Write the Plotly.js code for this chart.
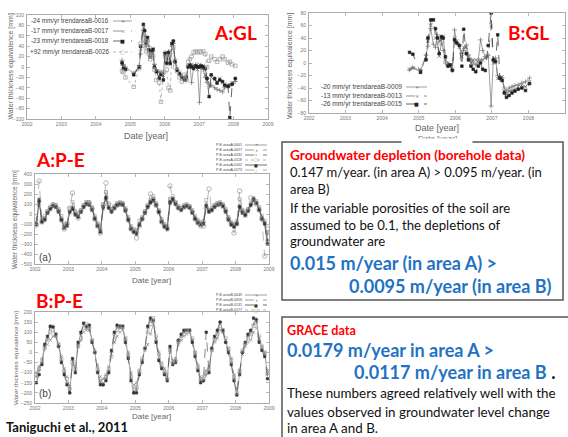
<!DOCTYPE html>
<html>
<head>
<meta charset="utf-8">
<script src="https://cdn.plot.ly/plotly-3.0.1.min.js"></script>
<style>html,body{margin:0;padding:0;background:#fff;}#chart{width:568px;height:437px;}</style>
</head>
<body>
<div id="chart"></div>
<script>
// ---------- DATA ----------
const years = [2002, 2003, 2004, 2005, 2006, 2007, 2008, 2009];

// A:GL (trend area A)
const glA_x = [2004.76,2004.80,2004.86,2005.10,2005.26,2005.30,2005.38,2005.42,2005.46,2005.50,2005.54,2005.58,2005.62,2005.66,2005.70,2005.76,2005.84,2005.89,2005.96,2006.01,2006.06,2006.11,2006.16,2006.21,2006.25,2006.30,2006.36,2006.43,2006.50,2006.57,2006.63,2006.68,2006.73,2006.78,2006.84,2006.90,2006.95,2007.01,2007.06,2007.12,2007.18,2007.23,2007.29,2007.35,2007.45,2007.52,2007.60,2007.68,2007.74,2007.84,2007.89,2007.96,2008.05];
const glA_0016 = [13,5,0,-12,3,25,70,50,40,50,40,25,20,30,5,-5,-10,-10,-12,28,15,30,10,40,45,15,-5,-15,-18,-20,-25,3,5,-30,0,5,2,-68,0,-5,-20,-30,-38,-35,-40,-43,-45,-48,-40,-38,-36,-32,-28];
const glA_0017 = [5,0,-3,-14,0,35,75,60,50,55,30,18,25,35,3,-8,-18,-12,-20,25,10,25,5,45,48,8,-3,-10,-22,-23,-18,2,3,5,2,0,-5,5,0,3,-15,-25,-32,-20,-25,-28,-22,-30,-33,-35,-34,-30,-25];
const glA_0018 = [8,-3,-5,-15,0,40,82,70,45,57,33,20,30,34,0,-9,-22,-15,-25,26,7,28,7,45,50,10,-6,-13,-20,-25,-20,0,4,0,-3,2,0,0,2,0,-3,-22,-57,-15,-22,-31,-25,-28,-35,-37,-97,-33,-22];
const glA_0026 = [-8,-10,-20,-38,-2,45,50,40,30,50,25,15,25,22,-5,-25,-30,-67,-10,20,-5,-40,-45,30,38,0,-8,-20,-28,-15,-25,10,15,20,28,30,28,30,28,30,25,0,12,20,15,10,15,20,15,8,10,5,2];
const glA_labels = ['-24 mm/yr', '-17 mm/yr', '-23 mm/yr', '+92 mm/yr'];
const glA_names = ['trendareaB-0016', 'trendareaB-0017', 'trendareaB-0018', 'trendareaB-0026'];

// B:GL (trend area B)
const glB_x = [2004.75,2004.84,2005.05,2005.20,2005.25,2005.33,2005.40,2005.46,2005.51,2005.56,2005.62,2005.67,2005.73,2005.80,2005.86,2005.92,2005.98,2006.04,2006.11,2006.18,2006.23,2006.30,2006.36,2006.43,2006.49,2006.56,2006.63,2006.69,2006.75,2006.82,2006.90,2006.98,2007.04,2007.10,2007.16,2007.22,2007.28,2007.34,2007.40,2007.47,2007.55,2007.63,2007.72,2007.82,2007.92,2008.03];
const glB_0009 = [-11,-7,-12,13,27,55,30,25,45,35,40,20,0,-3,-5,-11,53,32,29,15,20,29,13,5,0,-3,5,37,20,10,13,-69,5,8,-20,-26,-24,-40,-45,-40,-38,-36,-35,-32,-30,-24];
const glB_0013 = [-10,-8,-14,10,35,60,69,40,32,11,30,43,5,0,-3,-10,40,35,25,10,25,25,10,0,5,5,0,5,5,8,10,60,0,5,-25,-24,-22,-45,-50,-45,-44,-42,-38,-36,-38,-30];
const glB_0015 = [17,14,-15,5,40,69,69,55,40,15,42,40,10,-5,-3,-12,37,32,28,-5,54,15,5,-5,-10,-14,-5,0,-10,-12,28,80,5,2,45,-24,-28,-48,-55,-52,-48,-45,-42,-40,-44,-33];
const glB_labels = ['-20 mm/yr', '-13 mm/yr', '-26 mm/yr'];
const glB_names = ['trendareaB-0009', 'trendareaB-0013', 'trendareaB-0015'];

// A:P-E monthly, Jan 2002 - Dec 2008
const peA_0001 = [-100,120,-60,-40,20,60,90,80,40,-40,-120,-100, 30,80,0,-30,30,80,110,110,60,-30,-100,-160, 80,150,60,20,70,100,110,100,50,-40,-130,-160, -180,-90,-40,20,80,130,150,100,30,-60,-110,-130, 100,130,90,60,50,80,90,70,30,-30,-70,-90, -80,80,30,50,80,100,110,90,40,-40,-90,-110, -80,70,30,0,40,100,150,120,60,-30,-80,-200];
const peA_0027 = [-80,140,-80,-60,0,40,70,60,20,-60,-140,-120, 10,40,10,-10,10,60,90,90,40,-50,-120,-180, 50,190,80,40,50,80,90,90,30,-60,-150,-180, -200,-110,-60,0,60,100,120,80,10,-80,-130,-150, 120,150,110,70,30,60,70,60,10,-50,-90,-110, -100,100,20,30,60,80,90,70,20,-60,-110,-130, -100,90,10,-20,20,80,130,100,40,-50,-100,-280];
const peA_0032 = [-110,150,-70,-50,10,50,80,70,30,-50,-130,-110, 20,60,0,-20,20,70,100,100,50,-40,-110,-170, 60,170,70,30,60,90,100,100,40,-50,-140,-170, -190,-100,-50,10,70,110,130,90,20,-70,-120,-140, 110,140,100,60,40,70,80,70,20,-40,-80,-100, -90,90,30,40,70,90,100,80,30,-50,-100,-120, -90,80,20,-10,30,90,140,110,50,-40,-90,-260];
const peA_0118 = [-60,100,-40,-20,30,70,100,90,50,-20,-100,-90, 50,120,30,0,40,90,120,120,70,-20,-90,-150, 100,220,90,50,80,110,120,110,60,-30,-120,-150, -160,-70,-30,30,90,140,180,110,40,-50,-100,-120, 150,180,120,80,60,90,100,80,40,-20,-60,-80, -70,140,40,60,90,110,120,100,50,-30,-80,-100, -70,150,40,10,50,110,160,130,70,-20,-70,-180];
const peA_0162 = [-100,130,-80,-60,10,50,80,70,20,-60,-140,-120, 20,50,-10,-30,20,70,100,90,40,-50,-120,-180, 70,160,60,20,60,90,100,90,30,-60,-150,-180, -200,-110,-50,10,70,120,140,90,20,-80,-130,-150, 120,150,100,60,40,70,80,60,10,-50,-90,-110, -100,80,20,40,70,90,100,80,20,-60,-110,-130, -100,70,10,-10,30,90,150,110,40,-50,-100,-300];
const peA_0173 = [-110,330,-80,-50,20,60,90,80,30,-60,-150,-100, 60,210,10,-40,30,80,110,110,50,-50,-120,-190, 90,310,100,40,60,90,100,100,40,-60,-150,-180, -240,-120,-50,20,80,200,150,90,20,-80,-120,-150, 280,150,110,60,50,70,80,70,20,-50,-90,-120, -120,60,250,40,80,100,100,80,30,-50,-100,-190, -100,230,30,-10,40,160,120,100,40,-50,-420,-150];
const peA_names = ['P-E-areaA-0001','P-E-areaA-0027','P-E-areaA-0032','P-E-areaA-0118','P-E-areaA-0162','P-E-areaA-0173'];

// B:P-E monthly, Jan 2002 - Dec 2008
const peB_0049 = [-120,-90,-50,30,70,125,130,80,30,-40,-100,-150, -200,-40,-90,40,90,140,120,125,60,0,-90,-150, -160,-130,-90,0,90,125,120,120,60,-20,-130,-200, -180,-100,-40,20,120,160,150,60,-30,-70,-100,-130, 20,-50,-40,60,80,100,105,105,60,-10,-80,-140, -140,-110,-90,20,70,100,150,100,50,10,-50,-130, -210,-100,0,40,80,100,140,165,60,20,-10,-110];
const peB_0056 = [-100,-70,-30,20,40,60,80,80,40,-20,-80,-120, -170,-60,-70,30,60,100,110,110,60,10,-60,-120, -130,-110,-70,10,50,80,100,110,70,0,-100,-160, -150,-90,-40,10,40,90,140,70,0,-50,-80,-110, 0,-40,-30,40,60,80,90,100,60,0,-60,-120, -120,-90,-70,10,50,70,110,100,60,20,-30,-110, -180,-90,-10,30,50,60,100,120,70,30,0,-90];
const peB_0131 = [-150,-110,-60,40,80,130,125,90,30,-50,-110,-160, -200,-30,-100,50,100,145,130,135,50,0,-100,-160, -160,-140,-100,10,100,135,130,130,50,-30,-140,-200, -200,-110,-50,20,130,170,160,50,-40,-80,-110,-140, 30,-60,-50,60,90,110,110,110,50,-20,-90,-150, -140,100,-100,20,80,110,150,110,50,0,-60,-140, -210,-110,0,50,90,110,170,160,50,10,-20,-130];
const peB_0177 = [-110,-80,-40,20,60,100,110,90,40,-30,-90,-130, -180,-50,-80,30,70,120,140,120,60,0,-80,-140, -140,-120,-80,-20,60,110,130,130,70,-10,-120,-180, -170,-90,-30,20,100,140,170,80,-10,-60,-90,-130, 10,-50,-40,50,70,90,110,110,70,0,-70,-130, -130,-100,-80,10,60,90,130,110,70,20,-40,-120, -200,-90,10,40,70,90,130,150,80,30,0,-100];
const peB_names = ['P-E-areaB-0049','P-E-areaB-0056','P-E-areaB-0131','P-E-areaB-0177'];

// ---------- HELPERS ----------
const W = 568, H = 437;
const px = x => x / W;
const py = y => 1 - y / H;
const TF = 'Liberation Sans, Arial, sans-serif';
const SF = 'Lato, Open Sans, sans-serif';
const RED = '#ff0000', BLUE = '#1f72c4';

// styles: [color, dash, symbol, size]
const stA_GL = [['#777','solid','cross-thin-open',3.5],['#666','dash','x-thin-open',3.5],['#222','dash','square',2.6],['#999','dot','square-open',3.5]];
const stB_GL = [['#777','solid','cross-thin-open',3.5],['#666','dash','x-thin-open',3.5],['#222','dash','square',2.6]];
const stA_PE = [['#777','solid','cross-thin-open',3],['#777','dash','x-thin-open',3],['#444','dash','asterisk-open',3],['#999','dot','square-open',3],['#333','solid','square',2.4],['#888','dash','circle-open',4.5]];
const stB_PE = [['#777','solid','cross-thin-open',3],['#777','dash','x-thin-open',3],['#333','dash','square',2.4],['#999','dot','square-open',3]];
const symChar = {'cross-thin-open':'+','x-thin-open':'×','square':'■','square-open':'□','asterisk-open':'*','circle-open':'○'};

const traces = [];
function addSeries(xs, ys, st, xa, ya, name) {
  traces.push({x: xs, y: ys, xaxis: xa, yaxis: ya, type: 'scatter', mode: 'lines+markers', name: name,
    line: {color: st[0], dash: st[1], width: 0.7},
    marker: {symbol: st[2], size: st[3], color: st[0], line: {color: st[0], width: 0.7}},
    showlegend: false, hoverinfo: 'skip'});
}
function addMonthly(ys, st, xa, ya, name) {
  traces.push({x0: 2002.04, dx: 0.0833, y: ys, xaxis: xa, yaxis: ya, type: 'scatter', mode: 'lines+markers', name: name,
    line: {color: st[0], dash: st[1], width: 0.6},
    marker: {symbol: st[2], size: st[3], color: st[0], line: {color: st[0], width: 0.6}},
    showlegend: false, hoverinfo: 'skip'});
}

[glA_0016, glA_0017, glA_0018, glA_0026].forEach((s, i) => addSeries(glA_x, s, stA_GL[i], 'x', 'y', glA_names[i]));
[glB_0009, glB_0013, glB_0015].forEach((s, i) => addSeries(glB_x, s, stB_GL[i], 'x2', 'y2', glB_names[i]));
[peA_0001, peA_0027, peA_0032, peA_0118, peA_0162, peA_0173].forEach((s, i) => addMonthly(s, stA_PE[i], 'x3', 'y3', peA_names[i]));
[peB_0049, peB_0056, peB_0131, peB_0177].forEach((s, i) => addMonthly(s, stB_PE[i], 'x4', 'y4', peB_names[i]));

function xAxis(x0, x1, anchor) {
  return {domain: [px(x0), px(x1)], anchor: anchor, range: [2002, 2009], tickvals: years, ticktext: years.map(String),
    ticks: 'inside', ticklen: 3, tickcolor: '#999', tickwidth: 0.7, mirror: 'ticks', showline: true, linecolor: '#aaa', linewidth: 1,
    showgrid: false, zeroline: false, tickfont: {family: TF, size: 5, color: '#777'}, fixedrange: true};
}
function yAxis(y0, y1, anchor, range, dt) {
  return {domain: [py(y1), py(y0)], anchor: anchor, range: range, dtick: dt, tick0: 0,
    ticks: 'inside', ticklen: 3, tickcolor: '#999', tickwidth: 0.7, mirror: 'ticks', showline: true, linecolor: '#aaa', linewidth: 1,
    showgrid: false, zeroline: false, tickfont: {family: TF, size: 5, color: '#777'}, ticklabelstandoff: 1, fixedrange: true};
}

const ann = [];
const shapes = [];
function txt(x, y, text, size, color, opts) {
  ann.push(Object.assign({xref: 'paper', yref: 'paper', x: px(x), y: py(y), text: text, showarrow: false,
    xanchor: 'left', yanchor: 'middle', font: {family: SF, size: size, color: color}, borderpad: 0}, opts || {}));
}
function legendItem(xr, y, text, size, lx0, lx1, st, symSize) {
  txt(xr, y, text, size, '#444', {xanchor: 'right', font: {family: TF, size: size, color: '#444'}});
  shapes.push({type: 'line', xref: 'paper', yref: 'paper', x0: px(lx0), x1: px(lx1), y0: py(y), y1: py(y),
    line: {color: st[0], width: 0.7, dash: st[1]}});
  txt((lx0 + lx1) / 2, y, symChar[st[2]], symSize, st[0], {xanchor: 'center', font: {family: 'DejaVu Sans', size: symSize, color: st[0]}});
}

// Red panel titles
txt(213, 33, '<b>A:GL</b>', 19, RED);
txt(507, 33, '<b>B:GL</b>', 19, RED);
txt(35, 160, '<b>A:P-E</b>', 19, RED);
txt(35, 300, '<b>B:P-E</b>', 19, RED);

// axis titles
const ytitle = 'Water thickness equivalence [mm]';
txt(10.5, 67, ytitle, 7, '#666', {xanchor: 'center', textangle: -90, font: {family: TF, size: 7, color: '#666'}});
txt(290, 66, ytitle, 7, '#666', {xanchor: 'center', textangle: -90, font: {family: TF, size: 7, color: '#666'}});
txt(15, 220, ytitle, 6.5, '#666', {xanchor: 'center', textangle: -90, font: {family: TF, size: 6.5, color: '#666'}});
txt(15, 358, ytitle, 6.2, '#666', {xanchor: 'center', textangle: -90, font: {family: TF, size: 6.2, color: '#666'}});
const xtitle = 'Date [year]';
txt(146, 136, xtitle, 9, '#666', {xanchor: 'center', font: {family: TF, size: 9, color: '#666'}});
txt(437, 128, xtitle, 9, '#666', {xanchor: 'center', font: {family: TF, size: 9, color: '#666'}});
txt(437, 138, xtitle, 8, '#777', {xanchor: 'center', font: {family: TF, size: 8, color: '#777'}});
ann.push({xref: 'paper', yref: 'paper', x: px(437), y: py(140.5), text: ' ', showarrow: false, width: 70, height: 4, bgcolor: '#fff', borderpad: 0, xanchor: 'center', yanchor: 'middle'});
txt(151, 280, xtitle, 8, '#666', {xanchor: 'center', font: {family: TF, size: 8, color: '#666'}});
txt(151, 416, xtitle, 8, '#666', {xanchor: 'center', font: {family: TF, size: 8, color: '#666'}});
txt(45, 257, '(a)', 10, '#444', {xanchor: 'center', font: {family: TF, size: 10, color: '#444'}});
txt(45, 393, '(b)', 10, '#444', {xanchor: 'center', font: {family: TF, size: 10, color: '#444'}});

// legends
const lyA = [21, 31, 41, 52];
glA_names.forEach((n, i) => legendItem(110, lyA[i], glA_labels[i] + ' ' + n, 6.3, 113, 132, stA_GL[i], 5));
const lyB = [87, 96, 104];
glB_names.forEach((n, i) => legendItem(403, lyB[i], glB_labels[i] + ' ' + n, 6.6, 406, 427, stB_GL[i], 5));
const lyPA = [145, 150, 155, 160, 165, 170];
peA_names.forEach((n, i) => legendItem(243, lyPA[i], n, 3.6, 245, 267, stA_PE[i], 4));
const lyPB = [295, 300, 305, 310];
peB_names.forEach((n, i) => legendItem(243, lyPB[i], n, 3.6, 245, 267, stB_PE[i], 4));

// source
txt(5, 427, '<b>Taniguchi et al., 2011</b>', 13, '#111');

// text boxes
shapes.push({type: 'rect', xref: 'paper', yref: 'paper', x0: px(282), x1: px(563), y0: py(142), y1: py(300), line: {color: '#555', width: 1.5}, fillcolor: 'rgba(0,0,0,0)'});
shapes.push({type: 'rect', xref: 'paper', yref: 'paper', x0: px(282), x1: px(580), y0: py(317), y1: py(450), line: {color: '#555', width: 1.5}, fillcolor: 'rgba(0,0,0,0)'});

txt(289, 155, '<b>Groundwater depletion (borehole data)</b>', 13.6, RED);
txt(289, 172, '0.147 m/year. (in area A) > 0.095 m/year. (in', 13, '#111');
txt(289, 189, 'area B)', 13, '#111');
txt(289, 208, 'If the variable porosities of the soil are', 13.2, '#111');
txt(289, 225, 'assumed to be 0.1, the depletions of', 13.2, '#111');
txt(289, 241, 'groundwater are', 13.2, '#111');
txt(289, 263, '<b>0.015 m/year (in area A) ></b>', 18, BLUE);
txt(348, 286, '<b>0.0095 m/year (in area B)</b>', 18, BLUE);

txt(286, 330, '<b>GRACE data</b>', 12.6, RED);
txt(286, 350, '<b>0.0179 m/year in area A ></b>', 18, BLUE);
txt(353, 372, '<b>0.0117 m/year in area B</b> <b><span style="color:#111">.</span></b>', 18, BLUE);
txt(286, 393, 'These numbers agreed relatively well with the', 13.4, '#111');
txt(286, 412, 'values observed in groundwater level change', 13.4, '#111');
txt(286, 428, 'in area A and B.', 13.4, '#111');

const layout = {
  width: W, height: H, margin: {l: 0, r: 0, t: 0, b: 0}, paper_bgcolor: '#fff', plot_bgcolor: '#fff', showlegend: false,
  xaxis: xAxis(27, 268, 'y'), yaxis: yAxis(15, 119, 'x', [-100, 100], 20),
  xaxis2: xAxis(309, 565, 'y2'), yaxis2: yAxis(13, 113, 'x2', [-80, 80], 20),
  xaxis3: xAxis(35, 269, 'y3'), yaxis3: yAxis(174, 264, 'x3', [-500, 400], 100),
  xaxis4: xAxis(35, 269, 'y4'), yaxis4: yAxis(312, 403, 'x4', [-250, 200], 50),
  annotations: ann, shapes: shapes
};
Plotly.newPlot('chart', traces, layout, {displayModeBar: false, staticPlot: true});
</script>
</body>
</html>
